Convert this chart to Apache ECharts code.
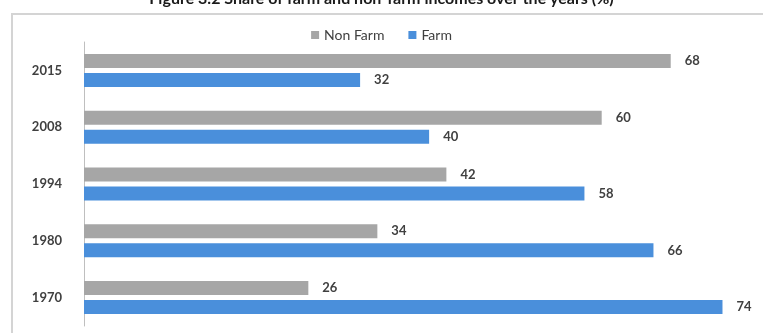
<!DOCTYPE html>
<html>
<head>
<meta charset="utf-8">
<script src="https://cdn.jsdelivr.net/npm/echarts@6/dist/echarts.min.js"></script>
<style>html,body{margin:0;padding:0;background:#fff;}#c{width:763px;height:333px;}</style>
</head>
<body>
<div id="c"></div>
<script>
const categories = ['2015', '2008', '1994', '1980', '1970'];
const nonFarm = [68, 60, 42, 34, 26];
const farm = [32, 40, 58, 66, 74];
const seriesNames = ['Non Farm', 'Farm'];
const titleText = 'Figure 3.2 Share of farm and non-farm incomes over the years (%)';

const chart = echarts.init(document.getElementById('c'), null, {renderer: 'canvas'});
const font = 'Lato, "Open Sans", sans-serif';
chart.setOption({
  animation: false,
  backgroundColor: '#ffffff',
  title: {
    text: titleText, left: 'center', top: -14,
    textStyle: {fontFamily: font, fontSize: 16, fontWeight: 'bold', color: '#1a1a1a'}
  },
  graphic: [{
    type: 'rect', shape: {x: 12, y: 14, width: 800, height: 400},
    style: {fill: 'none', stroke: '#d4d4d4', lineWidth: 2}, z: -1
  }],
  legend: {
    data: seriesNames, top: 23, left: 'center', itemWidth: 8, itemHeight: 8, itemGap: 24,
    icon: 'rect',
    textStyle: {fontFamily: font, fontSize: 14, color: '#404040'}
  },
  grid: {left: 84, top: 42, width: 673, height: 284},
  xAxis: {type: 'value', min: 0, max: 78, show: false},
  yAxis: {
    type: 'category', data: categories, inverse: true,
    axisLine: {show: true, lineStyle: {color: '#bfbfbf', width: 1}},
    axisTick: {show: false},
    axisLabel: {margin: 22, fontFamily: font, fontSize: 13, color: '#404040', fontWeight: 'bold'}
  },
  series: [
    {name: seriesNames[0], type: 'bar', data: nonFarm, barWidth: 14, barGap: '36%',
     itemStyle: {color: '#a6a6a6'},
     label: {show: true, position: 'right', distance: 14, fontFamily: font, fontSize: 13, color: '#404040', fontWeight: 'bold'}},
    {name: seriesNames[1], type: 'bar', data: farm, barWidth: 14, barGap: '36%',
     itemStyle: {color: '#4a8fdb'},
     label: {show: true, position: 'right', distance: 14, fontFamily: font, fontSize: 13, color: '#404040', fontWeight: 'bold'}}
  ]
});
</script>
</body>
</html>
